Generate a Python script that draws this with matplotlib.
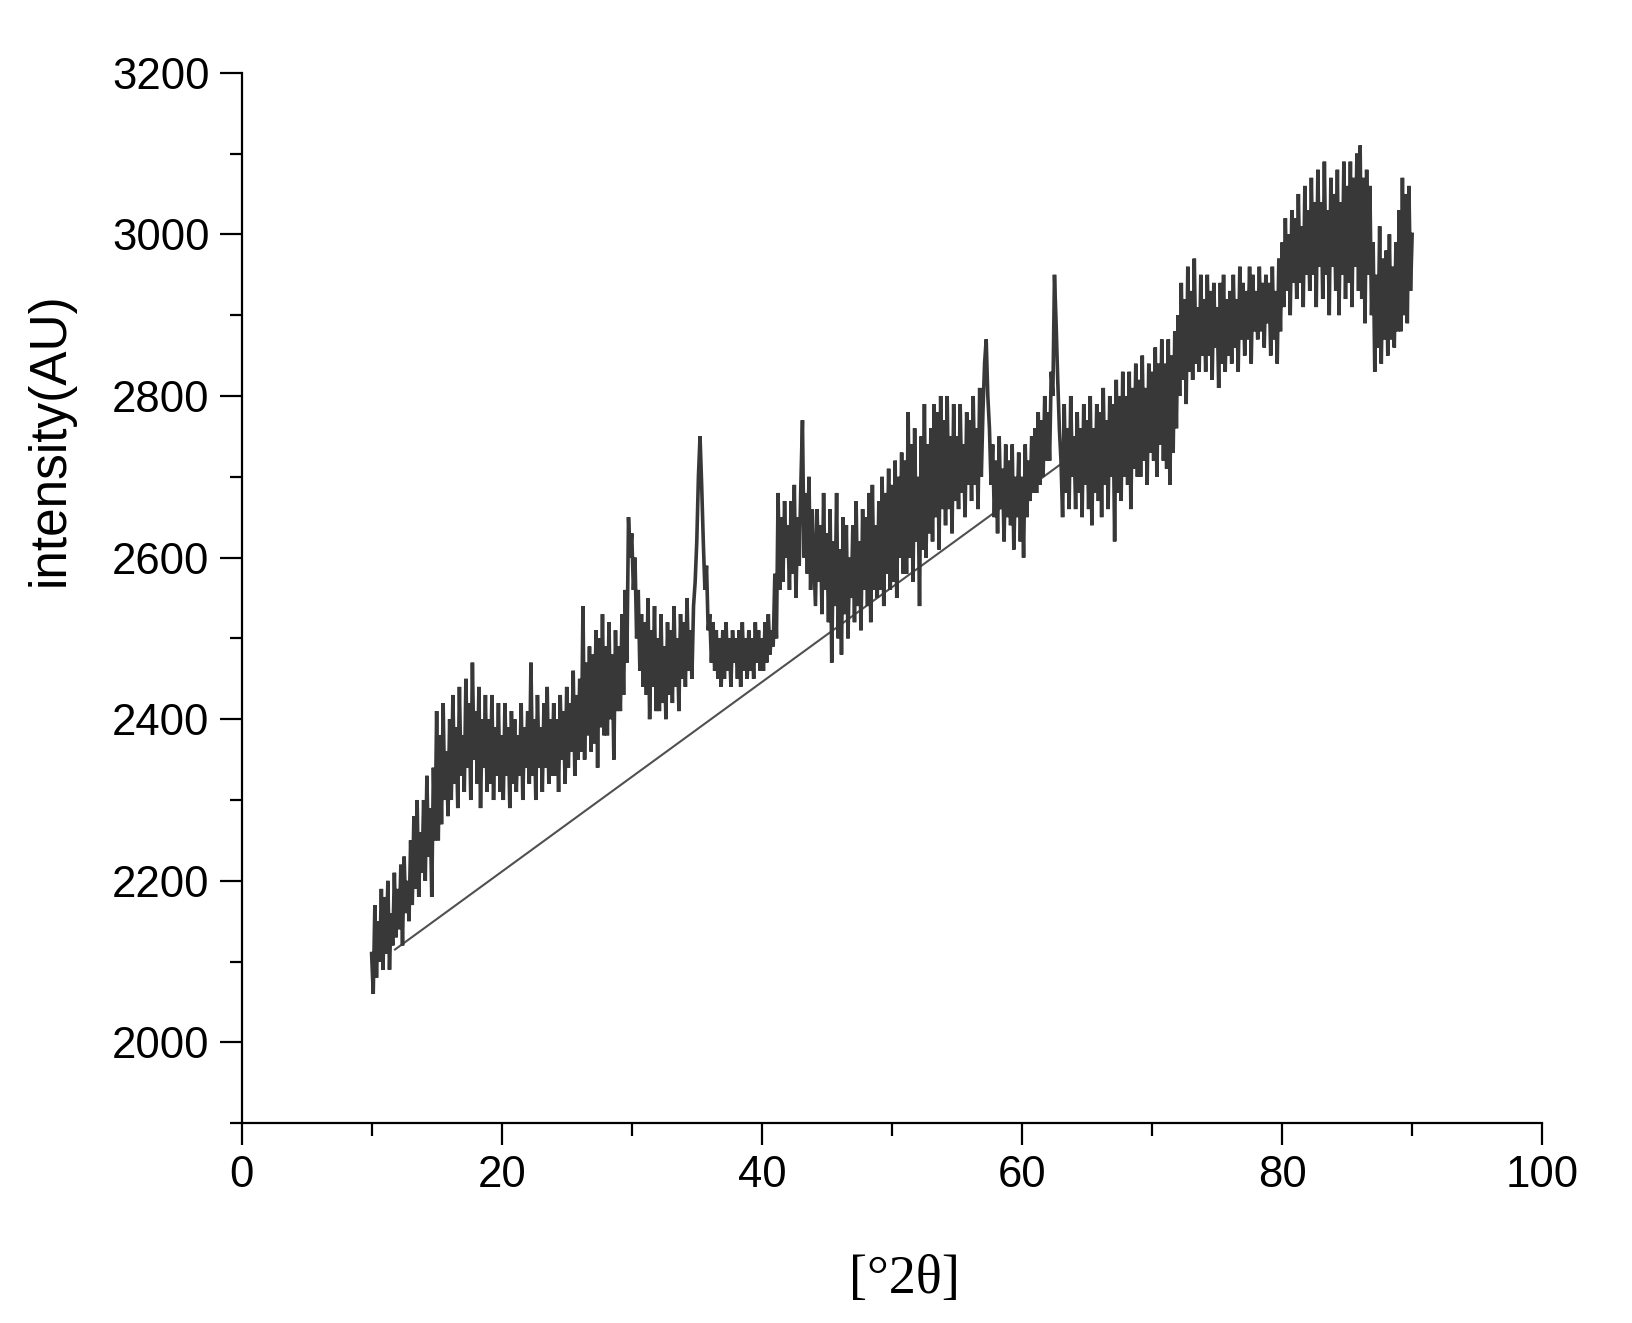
import numpy as np
import matplotlib
matplotlib.use("Agg")
import matplotlib.pyplot as plt
from matplotlib.ticker import MultipleLocator

# ---- data ----
x_start = 10.0
x_step = 0.125
intensity = [
    2110, 2060, 2170, 2080, 2150, 2100, 2190, 2090,   # 10
    2180, 2110, 2200, 2090, 2160, 2120, 2210, 2130,   # 11
    2190, 2140, 2220, 2120, 2230, 2160, 2200, 2150,   # 12
    2250, 2170, 2280, 2190, 2300, 2180, 2260, 2210,   # 13
    2300, 2200, 2330, 2230, 2290, 2180, 2340, 2250,   # 14
    2410, 2250, 2380, 2270, 2420, 2300, 2360, 2280,   # 15
    2400, 2300, 2430, 2320, 2390, 2290, 2440, 2330,   # 16
    2380, 2310, 2450, 2340, 2420, 2300, 2470, 2350,   # 17
    2410, 2320, 2440, 2290, 2400, 2340, 2430, 2310,   # 18
    2400, 2320, 2430, 2300, 2390, 2330, 2420, 2310,   # 19
    2380, 2300, 2420, 2330, 2390, 2290, 2410, 2320,   # 20
    2400, 2310, 2380, 2330, 2420, 2300, 2390, 2340,   # 21
    2410, 2320, 2470, 2330, 2400, 2300, 2430, 2340,   # 22
    2390, 2310, 2420, 2340, 2440, 2320, 2400, 2330,   # 23
    2420, 2330, 2400, 2310, 2430, 2350, 2410, 2320,   # 24
    2440, 2340, 2420, 2360, 2460, 2330, 2430, 2350,   # 25
    2450, 2360, 2540, 2350, 2470, 2380, 2490, 2360,   # 26
    2480, 2370, 2510, 2340, 2500, 2390, 2530, 2380,   # 27
    2490, 2380, 2520, 2400, 2480, 2350, 2510, 2410,   # 28
    2490, 2410, 2530, 2430, 2560, 2470, 2650, 2600,   # 29
    2630, 2560, 2600, 2500, 2560, 2460, 2530, 2440,   # 30
    2520, 2430, 2550, 2400, 2510, 2440, 2540, 2410,   # 31
    2500, 2410, 2530, 2420, 2490, 2400, 2520, 2430,   # 32
    2510, 2420, 2540, 2440, 2500, 2410, 2530, 2450,   # 33
    2520, 2440, 2550, 2460, 2510, 2450, 2540, 2570,   # 34
    2620, 2700, 2750, 2690, 2620, 2560, 2590, 2510,   # 35
    2530, 2470, 2520, 2460, 2510, 2450, 2500, 2440,   # 36
    2510, 2450, 2520, 2460, 2500, 2440, 2510, 2470,   # 37
    2500, 2450, 2510, 2440, 2520, 2460, 2500, 2450,   # 38
    2510, 2460, 2500, 2450, 2520, 2470, 2510, 2460,   # 39
    2500, 2460, 2520, 2470, 2530, 2480, 2510, 2490,   # 40
    2580, 2500, 2680, 2560, 2650, 2570, 2670, 2600,   # 41
    2640, 2560, 2670, 2580, 2690, 2550, 2650, 2590,   # 42
    2690, 2770, 2600, 2680, 2580, 2700, 2560, 2660,   # 43
    2600, 2540, 2660, 2570, 2640, 2530, 2680, 2560,   # 44
    2630, 2520, 2660, 2470, 2620, 2540, 2680, 2500,   # 45
    2610, 2480, 2650, 2530, 2640, 2500, 2600, 2550,   # 46
    2640, 2520, 2670, 2540, 2620, 2510, 2660, 2560,   # 47
    2650, 2540, 2680, 2520, 2690, 2560, 2640, 2550,   # 48
    2670, 2560, 2700, 2540, 2680, 2580, 2710, 2560,   # 49
    2690, 2570, 2720, 2550, 2700, 2600, 2730, 2580,   # 50
    2720, 2580, 2780, 2600, 2740, 2570, 2760, 2620,   # 51
    2700, 2540, 2750, 2610, 2790, 2600, 2740, 2630,   # 52
    2760, 2620, 2790, 2650, 2780, 2610, 2800, 2660,   # 53
    2770, 2640, 2800, 2660, 2750, 2630, 2790, 2670,   # 54
    2750, 2660, 2790, 2680, 2740, 2650, 2780, 2690,   # 55
    2770, 2670, 2800, 2690, 2760, 2660, 2810, 2700,   # 56
    2780, 2840, 2870, 2800, 2760, 2690, 2740, 2650,   # 57
    2720, 2630, 2750, 2660, 2710, 2620, 2740, 2650,   # 58
    2720, 2640, 2740, 2610, 2700, 2650, 2730, 2620,   # 59
    2700, 2600, 2740, 2650, 2720, 2670, 2750, 2680,   # 60
    2760, 2680, 2780, 2690, 2770, 2700, 2800, 2720,   # 61
    2780, 2720, 2830, 2800, 2950, 2890, 2820, 2760,   # 62
    2720, 2650, 2790, 2680, 2760, 2660, 2800, 2700,   # 63
    2750, 2660, 2780, 2680, 2760, 2650, 2790, 2690,   # 64
    2770, 2660, 2800, 2640, 2760, 2680, 2790, 2670,   # 65
    2780, 2650, 2810, 2690, 2770, 2660, 2800, 2700,   # 66
    2790, 2620, 2820, 2680, 2800, 2670, 2830, 2700,   # 67
    2800, 2690, 2830, 2660, 2810, 2710, 2840, 2700,   # 68
    2820, 2700, 2850, 2720, 2810, 2690, 2840, 2730,   # 69
    2830, 2720, 2860, 2700, 2840, 2740, 2870, 2720,   # 70
    2840, 2710, 2870, 2690, 2850, 2730, 2880, 2760,   # 71
    2900, 2800, 2940, 2820, 2920, 2790, 2960, 2830,   # 72
    2930, 2820, 2970, 2840, 2910, 2830, 2950, 2850,   # 73
    2920, 2830, 2950, 2850, 2930, 2820, 2940, 2860,   # 74
    2910, 2810, 2940, 2840, 2950, 2830, 2920, 2850,   # 75
    2930, 2840, 2950, 2860, 2920, 2830, 2960, 2870,   # 76
    2940, 2850, 2930, 2870, 2960, 2840, 2950, 2880,   # 77
    2930, 2870, 2960, 2880, 2940, 2860, 2950, 2890,   # 78
    2940, 2850, 2960, 2870, 2930, 2840, 2970, 2880,   # 79
    2990, 2910, 3020, 2930, 3000, 2900, 3030, 2940,   # 80
    3020, 2920, 3050, 2940, 3010, 2910, 3060, 2950,   # 81
    3030, 2930, 3070, 2950, 3040, 2910, 3080, 2960,   # 82
    3040, 2920, 3090, 2950, 3030, 2900, 3070, 2960,   # 83
    3050, 2930, 3080, 2900, 3040, 2950, 3090, 2920,   # 84
    3060, 2940, 3090, 2910, 3070, 2960, 3100, 2930,   # 85
    3110, 2920, 3070, 2890, 3080, 2950, 3060, 2900,   # 86
    2990, 2830, 2950, 2860, 3010, 2840, 2970, 2870,   # 87
    2980, 2850, 3000, 2870, 2960, 2860, 2990, 2880,   # 88
    3030, 2880, 3070, 2900, 3050, 2890, 3060, 2930,   # 89
    3000,                                             # 90
]
two_theta = x_start + x_step * np.arange(len(intensity))

baseline_x = [11.8, 66.0]
baseline_y = [2115, 2751]

x_ticks = [0, 20, 40, 60, 80, 100]
y_ticks = [2000, 2200, 2400, 2600, 2800, 3000, 3200]

# ---- figure ----
plt.rcParams['font.family'] = ['Liberation Sans', 'DejaVu Sans']
fig = plt.figure(figsize=(16.32, 13.23), dpi=100)
ax = fig.add_axes([0.148, 0.151, 0.797, 0.794])

ax.plot(baseline_x, baseline_y, color='#505050', lw=1.5, zorder=1)
ax.plot(two_theta, intensity, color='#383838', lw=2.6, solid_joinstyle='miter', zorder=2)

ax.set_xlim(0, 100)
ax.set_ylim(1900, 3200)
ax.set_xticks(x_ticks)
ax.set_yticks(y_ticks)
ax.xaxis.set_minor_locator(MultipleLocator(10))
ax.yaxis.set_minor_locator(MultipleLocator(100))

for s in ['top', 'right']:
    ax.spines[s].set_visible(False)
for s in ['left', 'bottom']:
    ax.spines[s].set_linewidth(1.6)
    ax.spines[s].set_color('black')

ax.tick_params(which='major', direction='out', length=16, width=1.6,
               labelsize=31.5, pad=7, colors='black')
ax.tick_params(which='minor', direction='out', length=9, width=1.6)

ax.set_ylabel('intensity(AU)', fontsize=37)
ax.yaxis.set_label_coords(-0.128, 0.651)
ax.set_xlabel('[°2θ]', fontsize=39, family=['Liberation Serif', 'DejaVu Serif'])
ax.xaxis.set_label_coords(0.51, -0.125)

fig.savefig('out.png', dpi=100, facecolor='white')
